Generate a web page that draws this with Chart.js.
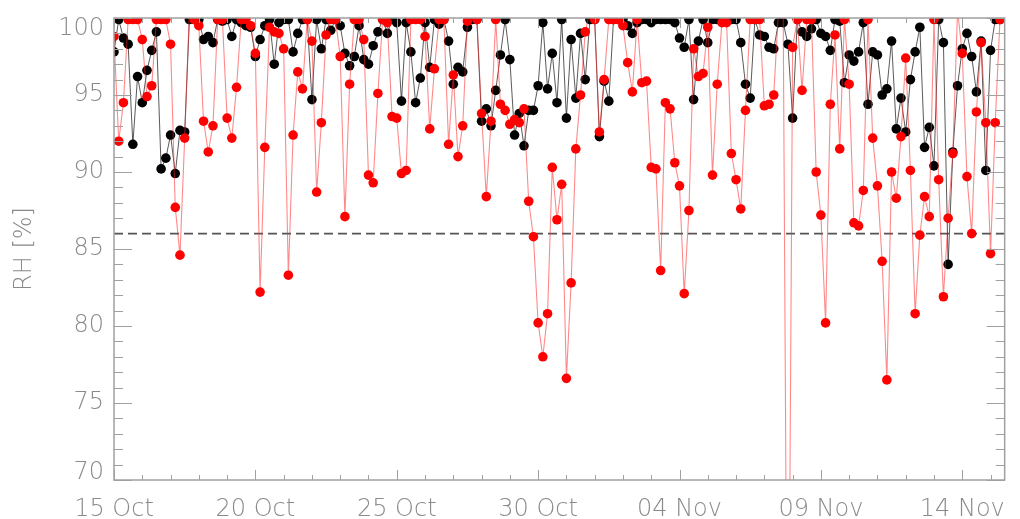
<!DOCTYPE html>
<html><head><meta charset="utf-8">
<script src="https://cdn.jsdelivr.net/npm/chart.js@4.4.1/dist/chart.umd.min.js"></script>
<style>html,body{margin:0;padding:0;background:#fff;}canvas{display:block;}</style>
</head><body>
<canvas id="c" width="1020" height="519"></canvas>
<script>
// time of each sample, hours since 15 Oct 00:00
const hours = [
  0,4,8,12,16,20, 24,28,32,36,40,44, 48,52,56,60,64,68, 72,76,80,84,88,92,
  96,100,104,108,112,116, 120,124,128,132,136,140, 144,148,152,156,160,164,
  168,172,176,180,184,188, 192,196,200,204,208,212, 216,220,224,228,232,236,
  240,244,248,252,256,260, 264,268,272,276,280,284, 288,292,296,300,304,308,
  312,316,320,324,328,332, 336,340,344,348,352,356, 360,364,368,372,376,380,
  384,388,392,396,400,404, 408,412,416,420,424,428, 432,436,440,444,448,452,
  456,460,464,468,472,476, 480,484,488,492,496,500, 504,508,512,516,520,524,
  528,532,536,540,544,548, 552,556,560,564,568,572, 576,580,584,588,592,596,
  600,604,608,612,616,620, 624,628,632,636,640,644, 648,652,656,660,664,668,
  672,676,680,684,688,692, 696,700,704,708,712,716, 720,724,728,732,736,740,
  744,748,752
];
const blackRH = [
  97.8,99.9,98.7,98.3,91.8,96.2, 94.5,96.6,97.9,99.1,90.2,90.9,
  92.4,89.9,92.7,92.6,99.9,99.9, 99.9,98.6,98.8,98.4,99.9,99.8,
  99.9,98.8,99.9,99.7,99.5,99.4, 97.5,98.6,99.5,99.9,97.0,99.7,
  99.9,99.9,97.8,99.0,99.9,99.9, 94.7,99.9,98.0,99.9,99.2,99.9,
  99.5,97.7,96.9,97.5,99.5,97.3, 97.0,98.2,99.1,99.9,99.0,99.9,
  99.7,94.6,99.7,97.8,94.5,96.1, 99.7,96.8,99.9,99.6,99.9,98.5,
  95.7,96.8,96.5,99.4,99.9,99.9, 93.3,94.1,93.0,95.3,97.6,99.9,
  97.3,92.4,93.8,91.7,94.0,94.0, 95.6,99.7,95.4,97.7,94.5,99.9,
  93.5,98.6,94.8,99.0,96.0,99.9, 99.9,92.3,95.9,94.6,99.9,99.9,
  99.9,99.5,99.0,99.7,99.9,99.9, 99.7,99.9,99.9,99.9,99.9,99.7,
  98.7,98.1,99.9,94.7,98.5,99.9, 98.4,99.9,99.9,99.9,99.9,99.9,
  99.9,98.4,95.7,94.8,99.9,98.9, 98.8,98.1,98.0,99.7,99.7,98.3,
  93.5,99.9,99.1,98.8,99.3,99.9, 99.0,98.8,97.9,99.9,99.8,95.8,
  97.6,97.2,97.8,99.7,94.4,97.8, 97.6,95.0,95.4,98.5,92.8,94.8,
  92.6,96.0,97.8,99.4,91.6,92.9, 90.4,99.9,98.4,84.0,91.3,95.6,
  98.0,99.0,97.5,95.2,98.5,90.1, 97.9,99.9,99.9
];
const redRH = [
  98.8,92.0,94.5,99.9,99.9,99.9, 98.6,94.9,95.6,99.9,99.9,99.9,
  98.3,87.7,84.6,92.2,100.5,99.9, 99.5,93.3,91.3,93.0,99.9,99.9,
  93.5,92.2,95.5,99.9,99.9,99.5, 97.7,82.2,91.6,99.4,99.1,99.0,
  98.0,83.3,92.4,96.5,95.4,99.9, 98.5,88.7,93.2,98.9,99.9,99.9,
  97.5,87.1,95.7,99.9,99.9,98.6, 89.8,89.3,95.1,99.9,99.7,93.6,
  93.5,89.9,90.1,99.9,99.9,99.9, 98.8,92.8,96.7,99.9,99.9,91.8,
  96.3,91.0,93.0,99.8,100.5,99.9, 93.8,88.4,93.3,99.9,94.4,94.0,
  93.1,93.4,93.2,94.1,88.1,85.8, 80.2,78.0,80.8,90.3,86.9,89.2,
  76.6,82.8,91.5,95.0,99.1,100.5, 99.9,92.6,96.0,99.9,99.9,99.9,
  99.5,97.1,95.2,99.9,95.8,95.9, 90.3,90.2,83.6,94.5,94.1,90.6,
  89.1,82.1,87.5,98.0,96.2,96.4, 99.4,89.8,95.7,99.7,99.7,91.2,
  89.5,87.6,94.0,99.9,99.9,99.9, 94.3,94.4,95.0,100.5,100.5,48.0,
  98.1,99.9,95.3,99.9,99.9,90.0, 87.2,80.2,94.4,98.9,91.5,99.9,
  95.7,86.7,86.5,88.8,99.9,92.2, 89.1,84.2,76.5,90.0,88.3,92.3,
  97.4,90.1,80.8,85.9,88.4,87.1, 99.9,89.5,81.9,87.0,91.2,100.5,
  97.7,89.7,86.0,93.9,98.4,93.2, 84.7,93.2,99.9
];
const thresholdRH = 86;
const xMinDays = 0, xMaxDays = 31.5;
const xTickDays = [0, 5, 10, 15, 20, 25, 30];
const xTickLabels = ['15 Oct', '20 Oct', '25 Oct', '30 Oct', '04 Nov', '09 Nov', '14 Nov'];
const yMin = 70, yMax = 100, yStep = 5;
const yAxisTitle = 'RH [%]';

const FONT = "'DejaVu Sans', 'Liberation Sans', sans-serif";
const GREY = '#8a8a8a';

const toPoints = vals => vals.map((v, i) => ({ x: hours[i] / 24, y: v }));

const frameTicks = {
  id: 'frameTicks',
  afterDatasetsDraw(chart) {
    const { ctx, chartArea: a, scales: { x, y } } = chart;
    ctx.save();
    ctx.strokeStyle = '#a0a0a0';
    ctx.lineWidth = 1;
    ctx.beginPath();
    for (let d = Math.ceil(xMinDays); d <= Math.floor(xMaxDays); d++) {
      const px = Math.round(x.getPixelForValue(d)) + 0.5;
      const len = xTickDays.includes(d) ? 10 : 5;
      ctx.moveTo(px, a.bottom); ctx.lineTo(px, a.bottom - len);
      ctx.moveTo(px, a.top); ctx.lineTo(px, a.top + len);
    }
    for (let v = yMin; v <= yMax; v++) {
      const py = Math.round(y.getPixelForValue(v)) + 0.5;
      const len = (v % yStep === 0) ? 18 : 9;
      ctx.moveTo(a.left, py); ctx.lineTo(a.left + len, py);
      ctx.moveTo(a.right, py); ctx.lineTo(a.right - len, py);
    }
    ctx.stroke();
    ctx.lineWidth = 1.5;
    ctx.strokeRect(a.left, a.top, a.right - a.left, a.bottom - a.top);
    ctx.restore();
  }
};

new Chart(document.getElementById('c'), {
  type: 'line',
  data: {
    datasets: [
      {
        label: 'red',
        data: toPoints(redRH),
        borderColor: 'rgba(255,40,40,0.55)',
        borderWidth: 1.1,
        pointBackgroundColor: '#ff0000',
        pointBorderWidth: 0,
        pointRadius: 4.8,
        tension: 0
      },
      {
        label: 'black',
        data: toPoints(blackRH),
        borderColor: 'rgba(20,20,20,0.7)',
        borderWidth: 1,
        pointBackgroundColor: '#000000',
        pointBorderWidth: 0,
        pointRadius: 4.8,
        tension: 0
      },
      {
        label: 'threshold',
        data: [{ x: xMinDays, y: thresholdRH }, { x: xMaxDays, y: thresholdRH }],
        borderColor: '#555555',
        borderWidth: 1.8,
        borderDash: [9, 5],
        pointRadius: 0
      }
    ]
  },
  options: {
    responsive: false,
    animation: false,
    devicePixelRatio: 1,
    layout: { padding: { left: 0, top: 18, right: 5, bottom: 0 } },
    plugins: { legend: { display: false }, tooltip: { enabled: false } },
    scales: {
      x: {
        type: 'linear',
        min: xMinDays,
        max: xMaxDays,
        grid: { display: false, drawTicks: false },
        border: { display: false },
        afterBuildTicks: axis => { axis.ticks = xTickDays.map(v => ({ value: v })); },
        afterFit: s => { s.height = 39; },
        ticks: {
          autoSkip: false,
          maxRotation: 0,
          padding: 15,
          color: GREY,
          font: { family: FONT, size: 24, weight: '200' },
          callback: v => xTickLabels[xTickDays.indexOf(v)]
        }
      },
      y: {
        min: yMin,
        max: yMax,
        grid: { display: false, drawTicks: false },
        border: { display: false },
        afterFit: s => { s.width = 114; s.paddingTop = 0; s.paddingBottom = 0; },
        ticks: {
          stepSize: yStep,
          padding: 10,
          color: GREY,
          font: c => ({
            family: FONT, size: 24, weight: '200',
            lineHeight: c.tick && c.tick.value === yMax ? '21px' : (c.tick && c.tick.value === yMin ? '15px' : 1.2)
          }),
          callback: v => v === yMax ? ['', String(v)] : (v === yMin ? [String(v), ''] : String(v))
        },
        title: {
          display: true,
          text: yAxisTitle,
          color: GREY,
          font: { family: FONT, size: 24, weight: '200' },
          padding: { top: 10, bottom: 0 }
        }
      }
    }
  },
  plugins: [frameTicks]
});
</script>
</body></html>
